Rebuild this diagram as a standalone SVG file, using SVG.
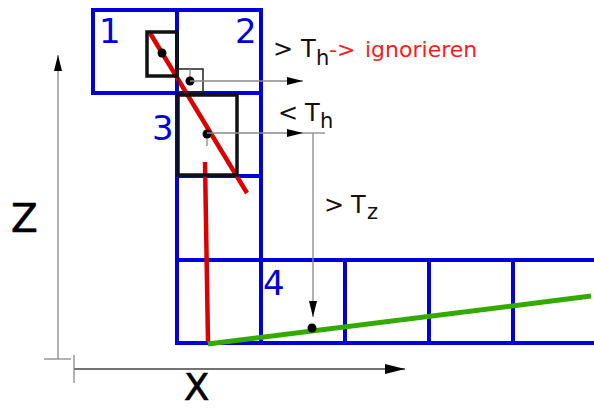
<svg xmlns="http://www.w3.org/2000/svg" width="594" height="409" viewBox="0 0 594 409">
<defs>
<style>
.cell{fill:none;stroke:#0000dd;stroke-width:4}
.num{font-family:"DejaVu Sans",sans-serif;font-size:34px;fill:#0000dd}
.blk{fill:none;stroke:#111;stroke-width:3.5}
.thin{fill:none;stroke:#222;stroke-width:1.5}
.dot{fill:#000}
.conn{stroke:#888;stroke-width:1.3;fill:none}
.lbl{font-family:"DejaVu Sans",sans-serif;font-size:24px;fill:#111}
.sub{font-family:"DejaVu Sans",sans-serif;font-size:21px;fill:#111}
.red{font-family:"DejaVu Sans",sans-serif;font-size:22px;fill:#ff1a1a}
.axis{font-family:"DejaVu Sans",sans-serif;font-size:39px;fill:#000;stroke:#000;stroke-width:0.6}
</style>
<marker id="ah" markerUnits="userSpaceOnUse" markerWidth="16" markerHeight="8" refX="16" refY="4" orient="auto">
<path d="M0,0 L16,4 L0,8 z" fill="#000"/>
</marker>
<marker id="ahBig" markerUnits="userSpaceOnUse" markerWidth="20" markerHeight="10" refX="20" refY="5" orient="auto">
<path d="M0,0 L20,5 L0,10 z" fill="#000"/>
</marker>
</defs>
<rect width="594" height="409" fill="#fff"/>

<g id="cell1"><rect class="cell" x="93" y="10" width="84" height="83"/><text class="num" x="99" y="43">1</text></g>
<g id="cell2"><rect class="cell" x="177" y="10" width="84" height="83"/><text class="num" x="235" y="43">2</text></g>
<g id="cell3"><rect class="cell" x="177" y="93" width="84" height="83"/><text class="num" x="152" y="140">3</text></g>
<g id="cellCol"><rect class="cell" x="177" y="176" width="84" height="84"/></g>
<g id="row">
<rect class="cell" x="177" y="260" width="84" height="83"/>
<rect class="cell" x="261" y="260" width="84" height="83"/>
<rect class="cell" x="345" y="260" width="84" height="83"/>
<rect class="cell" x="429" y="260" width="84" height="83"/>
<rect class="cell" x="513" y="260" width="86" height="83"/>
</g>
<g id="cell4"><text class="num" x="263" y="295">4</text></g>

<g id="lines">
<line x1="150" y1="33" x2="247" y2="193" stroke="#dd0000" stroke-width="4.5"/>
<line x1="205" y1="162" x2="208" y2="342" stroke="#dd0000" stroke-width="4.5"/>
<line x1="208" y1="344" x2="591" y2="296" stroke="#33aa00" stroke-width="5"/>
</g>

<g id="box1"><rect class="blk" x="147" y="32" width="30" height="44"/><circle class="dot" cx="162" cy="53" r="4.5"/></g>
<g id="box2"><rect class="thin" x="178" y="69" width="25" height="23"/><line class="conn" x1="190" y1="69" x2="190" y2="81"/><circle class="dot" cx="190" cy="81" r="4.5"/></g>
<g id="box3"><rect class="blk" x="178" y="95" width="59" height="80"/><line class="conn" x1="207" y1="134" x2="207" y2="146"/><circle class="dot" cx="207" cy="134" r="4.5"/></g>
<g id="pt4"><circle class="dot" cx="312" cy="328" r="4.5"/></g>

<g id="connectors">
<line class="conn" x1="190" y1="81" x2="303" y2="81" marker-end="url(#ah)"/>
<line class="conn" x1="207" y1="133" x2="303" y2="133" marker-end="url(#ah)"/>
<line class="conn" x1="303" y1="133" x2="325" y2="133"/>
<line class="conn" x1="313" y1="133" x2="313" y2="317" marker-end="url(#ah)"/>
<line x1="58" y1="359" x2="58" y2="55" stroke="#888" stroke-width="1.3" marker-end="url(#ah)"/>
<line x1="44" y1="359" x2="71" y2="359" stroke="#888" stroke-width="1.3"/>
<line x1="74" y1="369" x2="405" y2="369" stroke="#444" stroke-width="1.3" marker-end="url(#ahBig)"/>
<line x1="74" y1="355" x2="74" y2="383" stroke="#888" stroke-width="1.3"/>
</g>

<g id="labels">
<text class="lbl" x="273" y="57">&gt;</text><text class="lbl" x="301" y="57">T</text><text class="sub" x="316" y="65">h</text>
<text class="red" x="329" y="57">-&gt;</text><text class="red" x="365" y="57">ignorieren</text>
<text class="lbl" x="278" y="121">&lt;</text><text class="lbl" x="305" y="121">T</text><text class="sub" x="320" y="128">h</text>
<text class="lbl" x="324" y="213">&gt;</text><text class="lbl" x="351" y="213">T</text><text class="sub" x="367" y="219">z</text>
<text class="axis" x="11" y="232">Z</text>
<text class="axis" x="184" y="400" style="font-size:37px">X</text>
</g>
</svg>
